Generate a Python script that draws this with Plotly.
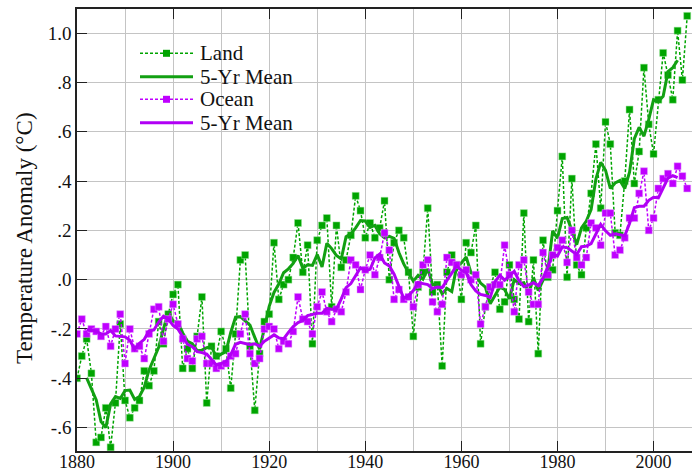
import plotly.graph_objects as go

years = list(range(1880, 2008))
land = [-0.40, -0.31, -0.24, -0.38, -0.66, -0.64, -0.52, -0.68, -0.50, -0.18,
        -0.49, -0.56, -0.52, -0.49, -0.37, -0.43, -0.37, -0.17, -0.26, -0.14,
        -0.06, -0.02, -0.36, -0.28, -0.36, -0.23, -0.07, -0.50, -0.27, -0.31,
        -0.21, -0.28, -0.44, -0.22, 0.08, 0.10, -0.27, -0.53, -0.30, -0.17,
        -0.14, 0.15, -0.08, -0.02, 0.00, 0.09, 0.23, 0.03, 0.14, -0.26,
        0.16, 0.22, 0.25, -0.11, 0.22, 0.05, 0.08, 0.18, 0.34, 0.28,
        0.17, 0.23, 0.17, 0.21, 0.32, 0.00, 0.15, 0.20, 0.17, 0.03,
        -0.23, -0.03, 0.03, 0.29, -0.05, -0.02, -0.35, 0.03, 0.10, 0.06,
        -0.08, 0.15, 0.11, 0.22, -0.26, -0.11, -0.03, 0.03, -0.12, -0.09,
        0.06, -0.08, -0.16, 0.27, -0.17, 0.08, -0.30, 0.16, 0.01, 0.04,
        0.28, 0.50, 0.01, 0.41, 0.06, 0.02, 0.21, 0.35, 0.55, 0.29,
        0.64, 0.55, 0.19, 0.18, 0.40, 0.69, 0.39, 0.52, 0.86, 0.63,
        0.51, 0.73, 0.92, 0.83, 0.73, 1.01, 0.81, 1.07]
ocean = [-0.22, -0.16, -0.22, -0.20, -0.21, -0.23, -0.19, -0.27, -0.20, -0.14,
         -0.34, -0.20, -0.28, -0.27, -0.32, -0.22, -0.12, -0.11, -0.25, -0.16,
         -0.10, -0.18, -0.24, -0.32, -0.33, -0.24, -0.23, -0.34, -0.34, -0.36,
         -0.35, -0.34, -0.31, -0.30, -0.22, -0.14, -0.30, -0.34, -0.32, -0.20,
         -0.19, -0.20, -0.28, -0.25, -0.26, -0.21, -0.07, -0.16, -0.17, -0.22,
         -0.11, -0.05, -0.13, -0.17, -0.12, -0.13, -0.05, 0.08, 0.06, -0.04,
         0.04, 0.10, 0.02, 0.09, 0.19, 0.12, -0.08, -0.04, -0.08, -0.07,
         -0.11, -0.02, 0.06, 0.08, -0.09, -0.13, -0.10, 0.09, 0.07, 0.06,
         0.02, 0.04, 0.00, 0.02, -0.18, -0.11, -0.03, -0.02, -0.02, 0.14,
         0.02, -0.13, 0.06, 0.08, -0.05, -0.10, -0.10, 0.11, 0.02, 0.10,
         0.13, 0.16, 0.07, 0.20, 0.09, 0.06, 0.09, 0.23, 0.21, 0.14,
         0.27, 0.27, 0.10, 0.12, 0.17, 0.25, 0.25, 0.35, 0.44, 0.20,
         0.25, 0.37, 0.41, 0.43, 0.39, 0.46, 0.42, 0.37]

mean_years = list(range(1882, 2006))
land_mean = [-0.398, -0.446, -0.488, -0.576, -0.600, -0.504, -0.474, -0.482, -0.450, -0.448,
             -0.486, -0.474, -0.436, -0.366, -0.320, -0.274, -0.200, -0.130, -0.168, -0.172,
             -0.216, -0.250, -0.260, -0.288, -0.286, -0.276, -0.272, -0.314, -0.302, -0.292,
             -0.214, -0.152, -0.150, -0.168, -0.184, -0.234, -0.282, -0.198, -0.108, -0.052,
             -0.018, 0.028, 0.044, 0.066, 0.098, 0.046, 0.060, 0.058, 0.102, 0.052,
             0.148, 0.126, 0.098, 0.084, 0.174, 0.186, 0.210, 0.240, 0.238, 0.212,
             0.220, 0.186, 0.170, 0.176, 0.168, 0.110, 0.064, 0.028, -0.006, 0.018,
             0.002, 0.044, -0.020, -0.020, -0.058, -0.036, -0.048, 0.052, 0.068, 0.092,
             0.028, 0.022, -0.014, -0.030, -0.098, -0.064, -0.030, -0.040, -0.078, 0.000,
             -0.016, -0.012, -0.056, 0.008, -0.044, -0.002, 0.038, 0.198, 0.168, 0.248,
             0.252, 0.200, 0.142, 0.210, 0.238, 0.284, 0.408, 0.476, 0.444, 0.370,
             0.392, 0.402, 0.370, 0.436, 0.572, 0.618, 0.582, 0.650, 0.730, 0.724,
             0.744, 0.844, 0.860, 0.890]
ocean_mean = [-0.202, -0.204, -0.210, -0.220, -0.220, -0.206, -0.228, -0.230, -0.232, -0.246,
              -0.282, -0.258, -0.242, -0.208, -0.204, -0.172, -0.148, -0.160, -0.186, -0.200,
              -0.234, -0.262, -0.272, -0.292, -0.296, -0.302, -0.324, -0.346, -0.340, -0.332,
              -0.304, -0.262, -0.254, -0.260, -0.264, -0.260, -0.270, -0.250, -0.238, -0.224,
              -0.236, -0.240, -0.214, -0.190, -0.174, -0.166, -0.146, -0.142, -0.136, -0.136,
              -0.116, -0.120, -0.120, -0.078, -0.032, -0.016, 0.018, 0.048, 0.036, 0.042,
              0.088, 0.104, 0.068, 0.056, 0.022, -0.030, -0.076, -0.064, -0.044, -0.012,
              -0.016, -0.020, -0.036, -0.030, -0.032, -0.002, 0.028, 0.056, 0.038, 0.028,
              -0.020, -0.046, -0.060, -0.064, -0.072, -0.008, 0.018, -0.002, 0.014, 0.034,
              -0.004, -0.028, -0.022, -0.012, -0.024, 0.006, 0.052, 0.104, 0.096, 0.132,
              0.130, 0.116, 0.102, 0.134, 0.136, 0.146, 0.188, 0.224, 0.198, 0.180,
              0.186, 0.182, 0.178, 0.228, 0.292, 0.298, 0.298, 0.322, 0.334, 0.332,
              0.370, 0.412, 0.422, 0.414]

x_ticks = [1880, 1900, 1920, 1940, 1960, 1980, 2000]
y_tickvals = [-0.6, -0.4, -0.2, 0.0, 0.2, 0.4, 0.6, 0.8, 1.0]
y_ticktext = ["-.6", "-.4", "-.2", ".0", ".2", ".4", ".6", ".8", "1.0"]
legend_labels = ["Land", "5-Yr Mean", "Ocean", "5-Yr Mean"]
y_title = "Temperature Anomaly (°C)"

GREEN = "#00a400"
GREEN_LINE = "#12a012"
PURPLE = "#bf00ff"
PURPLE_LINE = "#b100f5"
FONT = "Liberation Serif, Tinos, DejaVu Serif, Times New Roman, serif"

fig = go.Figure()
fig.add_trace(go.Scatter(x=years, y=land, mode="lines+markers", name=legend_labels[0],
                         line=dict(color=GREEN, width=1.5, dash="3px,2px"),
                         marker=dict(symbol="square", size=7, color=GREEN,
                                     line=dict(color="rgba(150,230,150,0.8)", width=0.6))))
fig.add_trace(go.Scatter(x=mean_years, y=land_mean, mode="lines", name=legend_labels[1],
                         line=dict(color=GREEN_LINE, width=3)))
fig.add_trace(go.Scatter(x=years, y=ocean, mode="lines+markers", name=legend_labels[2],
                         line=dict(color=PURPLE, width=1.5, dash="3px,2px"),
                         marker=dict(symbol="square", size=7, color=PURPLE,
                                     line=dict(color="rgba(230,160,255,0.8)", width=0.6))))
fig.add_trace(go.Scatter(x=mean_years, y=ocean_mean, mode="lines", name=legend_labels[3],
                         line=dict(color=PURPLE_LINE, width=3)))

# manual legend (paper coordinates)
L, R, T, B = 77, 0, 9, 23
W, H = 692, 474
pw, ph = W - L - R, H - T - B
def px(x):
    return (x - L) / pw
def py(y):
    return (H - B - y) / ph

shapes = [dict(type="rect", xref="paper", yref="paper", x0=px(132), x1=px(312),
               y0=py(136), y1=py(40), fillcolor="white", line=dict(width=0), layer="between")]
rows = [53.3, 76.7, 99.3, 122.7]
styles = [(GREEN, 1.5, "3px,2px", True), (GREEN_LINE, 3, "solid", False),
          (PURPLE, 1.5, "3px,2px", True), (PURPLE_LINE, 3, "solid", False)]
annotations = []
for ry, (c, w, d, mk), lab in zip(rows, styles, legend_labels):
    shapes.append(dict(type="line", xref="paper", yref="paper", x0=px(140), x1=px(193),
                       y0=py(ry), y1=py(ry), line=dict(color=c, width=w, dash=d)))
    if mk:
        shapes.append(dict(type="rect", xref="paper", yref="paper", xsizemode="pixel",
                           ysizemode="pixel", xanchor=px(166.5), yanchor=py(ry),
                           x0=-3.5, x1=3.5, y0=-3.5, y1=3.5, fillcolor=c, line=dict(width=0)))
    annotations.append(dict(xref="paper", yref="paper", x=px(198), y=py(ry), text=lab,
                            showarrow=False, xanchor="left", yanchor="middle",
                            font=dict(family=FONT, size=21, color="#111")))

annotations.append(dict(xref="paper", yref="paper", x=px(25), y=py(238), text=y_title,
                        textangle=-90, showarrow=False, xanchor="center", yanchor="middle",
                        font=dict(family=FONT, size=23, color="#111")))

fig.update_layout(
    width=W, height=H, margin=dict(l=L, r=R, t=T, b=B, autoexpand=False),
    paper_bgcolor="white", plot_bgcolor="white", showlegend=False,
    font=dict(family=FONT, size=19, color="#111"),
    shapes=shapes, annotations=annotations,
    xaxis=dict(range=[1880, 2008], tickvals=x_ticks, ticks="inside", ticklen=10,
               tickwidth=1.3, tickcolor="#222", showline=True, linecolor="#222", linewidth=1.6,
               mirror="ticks", showgrid=True, gridcolor="#c4c4c4", gridwidth=1, automargin=False,
               minor=dict(dtick=10, tick0=1880, showgrid=True, gridcolor="#c4c4c4", ticklen=0),
               zeroline=False, ticklabelstandoff=-6,
               tickfont=dict(family=FONT, size=18, color="#111")),
    yaxis=dict(range=[-0.695, 1.098], tickvals=y_tickvals, ticktext=y_ticktext,
               ticks="inside", ticklen=10, tickwidth=1.3, tickcolor="#222", automargin=False,
               showline=True, linecolor="#222", linewidth=1.6, mirror=False,
               showgrid=True, gridcolor="#c4c4c4", gridwidth=1, zeroline=False,
               tickfont=dict(family=FONT, size=19, color="#111")),
)

fig.write_html("out.html", config={"displayModeBar": False},
               post_script="document.body.style.margin='0px';")
